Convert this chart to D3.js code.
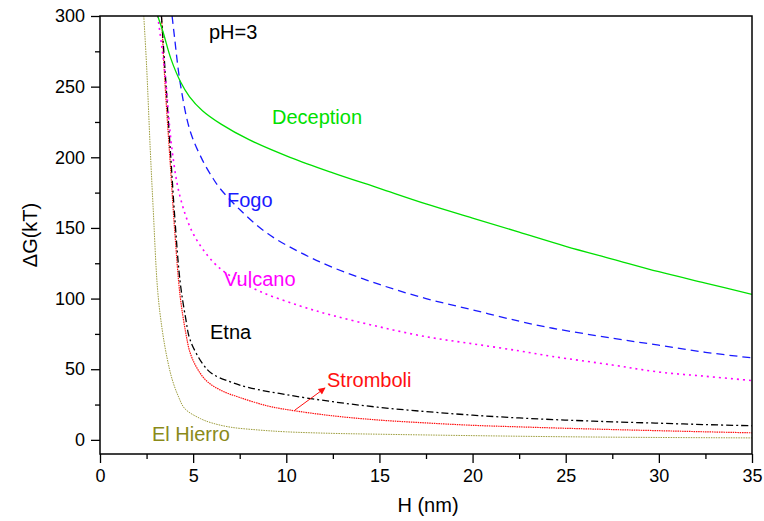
<!DOCTYPE html>
<html>
<head>
<meta charset="utf-8">
<script src="https://cdn.jsdelivr.net/npm/d3@7"></script>
<style>
  body { margin: 0; background: #fff; }
  svg text { font-family: 'Liberation Sans', Arial, sans-serif; }
</style>
</head>
<body>
<div id="chart"></div>
<script>
'use strict';

// H (nm) / deltaG (kT) pairs
var deceptionH = [3.1, 3.4, 3.8, 4.3, 4.8, 5.5, 6.5, 8, 10.2, 12.5, 15, 17.5, 20, 22.5, 25, 27.5, 30, 32.5, 35];
var deceptionG = [300, 288, 270, 254, 243, 233, 223.5, 212.5, 200, 189, 178, 167, 157, 147, 137, 128, 119, 111, 103];

var fogoH = [3.87, 4.0, 4.3, 4.83, 5.5, 6.07, 6.44, 7.5, 9, 10.7, 12.5, 15, 17.5, 20, 22.5, 24.3, 27.5, 30, 32.5, 35];
var fogoG = [300, 285, 253, 219, 198, 185, 178, 163, 146, 133, 122, 110, 100, 92, 84, 79, 72, 67, 62, 58];

var vulcanoH = [3.1, 3.3, 3.5, 3.87, 4.3, 5, 6.07, 7, 8.6, 10.7, 12.5, 15, 17.5, 20, 22.5, 24.3, 27.5, 30, 32.5, 35];
var vulcanoG = [300, 280, 258, 205, 172, 146, 126, 116, 105, 95, 88, 80, 73, 68, 63, 59, 53, 48, 45, 42];

var etnaH = [3.3, 3.5, 3.8, 4.0, 4.3, 4.6, 4.83, 5.5, 6, 7, 8, 10, 12.5, 15, 17.5, 20, 22.5, 25, 27.5, 30, 32.5, 35];
var etnaG = [300, 260, 200, 160, 112, 86, 71, 54, 47, 41, 37, 32, 27, 23, 20, 17.5, 15.5, 14, 12.8, 11.8, 10.8, 10];

var stromboliH = [3.3, 3.5, 3.8, 4.0, 4.3, 4.6, 4.83, 5.2, 5.7, 6.5, 7.5, 9, 10, 12.5, 15, 17.5, 20, 22.5, 25, 27.5, 30, 32.5, 35];
var stromboliG = [300, 250, 190, 150, 102, 76, 62, 51, 42, 35, 30, 24, 21.5, 17, 14, 12, 10.3, 9.2, 8.2, 7.3, 6.5, 5.7, 5];

var hierroH = [2.35, 2.5, 2.7, 2.85, 3.1, 3.35, 3.6, 3.87, 4.2, 4.56, 5.4, 6, 7, 8.5, 10, 12.5, 15, 20, 25, 30, 35];
var hierroG = [300, 265, 205, 165, 105, 77, 58, 43, 31, 22, 15, 12, 9, 7, 5.7, 4.6, 4, 3, 2.2, 1.7, 1.4];

var xTicks = [0, 5, 10, 15, 20, 25, 30, 35];
var yTicks = [0, 50, 100, 150, 200, 250, 300];

var width = 764,
    height = 521;

var plotL = 100, plotR = 752, plotT = 16, plotB = 454;

var svg = d3.select('#chart').append('svg')
    .attr('width', width)
    .attr('height', height);

var x = d3.scaleLinear().domain([0, 35]).range([plotL, plotR]);
var y = d3.scaleLinear().domain([-10, 300]).range([plotB, plotT]);

var defs = svg.append('defs');

defs.append('clipPath').attr('id', 'clip')
  .append('rect')
    .attr('x', plotL).attr('y', plotT)
    .attr('width', plotR - plotL).attr('height', plotB - plotT);

var line = d3.line()
    .x(function(d) { return x(d[0]); })
    .y(function(d) { return y(d[1]); })
    .curve(d3.curveCatmullRom.alpha(0.5));

var series = [
  {h: hierroH, g: hierroG, color: '#9c9c3a', w: 1, dash: '1.5,1'},
  {h: stromboliH, g: stromboliG, color: '#ff1010', w: 1.2, dash: '1.5,0.8'},
  {h: etnaH, g: etnaG, color: '#000', w: 1.3, dash: '7,3,2,3'},
  {h: vulcanoH, g: vulcanoG, color: '#ff00ff', w: 1.6, dash: '2,4'},
  {h: fogoH, g: fogoG, color: '#1a1aff', w: 1.3, dash: '8,5'},
  {h: deceptionH, g: deceptionG, color: '#00e000', w: 1.3, dash: null}
];

var plot = svg.append('g').attr('clip-path', 'url(#clip)');

series.forEach(function(s) {
  plot.append('path')
    .datum(d3.zip(s.h, s.g))
    .attr('fill', 'none')
    .attr('stroke', s.color)
    .attr('stroke-width', s.w)
    .attr('stroke-dasharray', s.dash)
    .attr('d', line);
});

// axes with outer major + minor ticks
svg.append('g')
    .attr('transform', 'translate(0,' + plotB + ')')
    .call(d3.axisBottom(x).tickValues(d3.range(2.5, 35, 5)).tickSize(5).tickFormat(''));
svg.append('g')
    .attr('transform', 'translate(0,' + plotB + ')')
    .call(d3.axisBottom(x).tickValues(xTicks).tickSize(9).tickPadding(6).tickFormat(d3.format('d')));

svg.append('g')
    .attr('transform', 'translate(' + plotL + ',0)')
    .call(d3.axisLeft(y).tickValues(d3.range(25, 300, 50)).tickSize(5).tickFormat(''));
svg.append('g')
    .attr('transform', 'translate(' + plotL + ',0)')
    .call(d3.axisLeft(y).tickValues(yTicks).tickSize(9).tickPadding(6).tickFormat(d3.format('d')));

svg.selectAll('.domain').remove();
svg.selectAll('.tick line').attr('stroke', '#000').attr('stroke-width', 1.3);
svg.selectAll('.tick text').attr('font-size', 18).attr('fill', '#000')
    .attr('font-family', "'Liberation Sans', Arial, sans-serif");

// frame
svg.append('rect')
    .attr('x', plotL).attr('y', plotT)
    .attr('width', plotR - plotL).attr('height', plotB - plotT)
    .attr('fill', 'none')
    .attr('stroke', '#000')
    .attr('stroke-width', 1.5);

// axis titles
svg.append('text')
    .attr('x', 428).attr('y', 512)
    .attr('text-anchor', 'middle')
    .attr('font-size', 20)
    .text('H (nm)');

svg.append('text')
    .attr('transform', 'translate(37,' + ((plotT + plotB) / 2) + ') rotate(-90)')
    .attr('text-anchor', 'middle')
    .attr('font-size', 20)
    .text('\u0394G(kT)');

// curve labels
var labels = [
  {t: 'pH=3', x: 209, y: 39, c: '#000'},
  {t: 'Deception', x: 272, y: 124, c: '#00e000'},
  {t: 'Fogo', x: 227, y: 207, c: '#1a1aff'},
  {t: 'Vulcano', x: 224, y: 286, c: '#ff00ff'},
  {t: 'Etna', x: 210, y: 339, c: '#000'},
  {t: 'Stromboli', x: 327, y: 387, c: '#ff1010'},
  {t: 'El Hierro', x: 152, y: 441, c: '#8a8a1a'}
];

svg.selectAll('text.lbl')
    .data(labels)
  .enter().append('text')
    .attr('class', 'lbl')
    .attr('x', function(d) { return d.x; })
    .attr('y', function(d) { return d.y; })
    .attr('font-size', 20)
    .attr('fill', function(d) { return d.c; })
    .text(function(d) { return d.t; });

// arrow to Stromboli curve
defs.append('marker')
    .attr('id', 'arrow')
    .attr('viewBox', '0 0 10 10')
    .attr('refX', 9).attr('refY', 5)
    .attr('markerWidth', 9).attr('markerHeight', 7)
    .attr('orient', 'auto')
    .attr('markerUnits', 'userSpaceOnUse')
  .append('path')
    .attr('d', 'M0,0L10,5L0,10z')
    .attr('fill', '#ff1010');

svg.append('line')
    .attr('x1', 295).attr('y1', 410)
    .attr('x2', 325).attr('y2', 388)
    .attr('stroke', '#ff1010')
    .attr('stroke-width', 1)
    .attr('marker-end', 'url(#arrow)');
</script>
</body>
</html>
